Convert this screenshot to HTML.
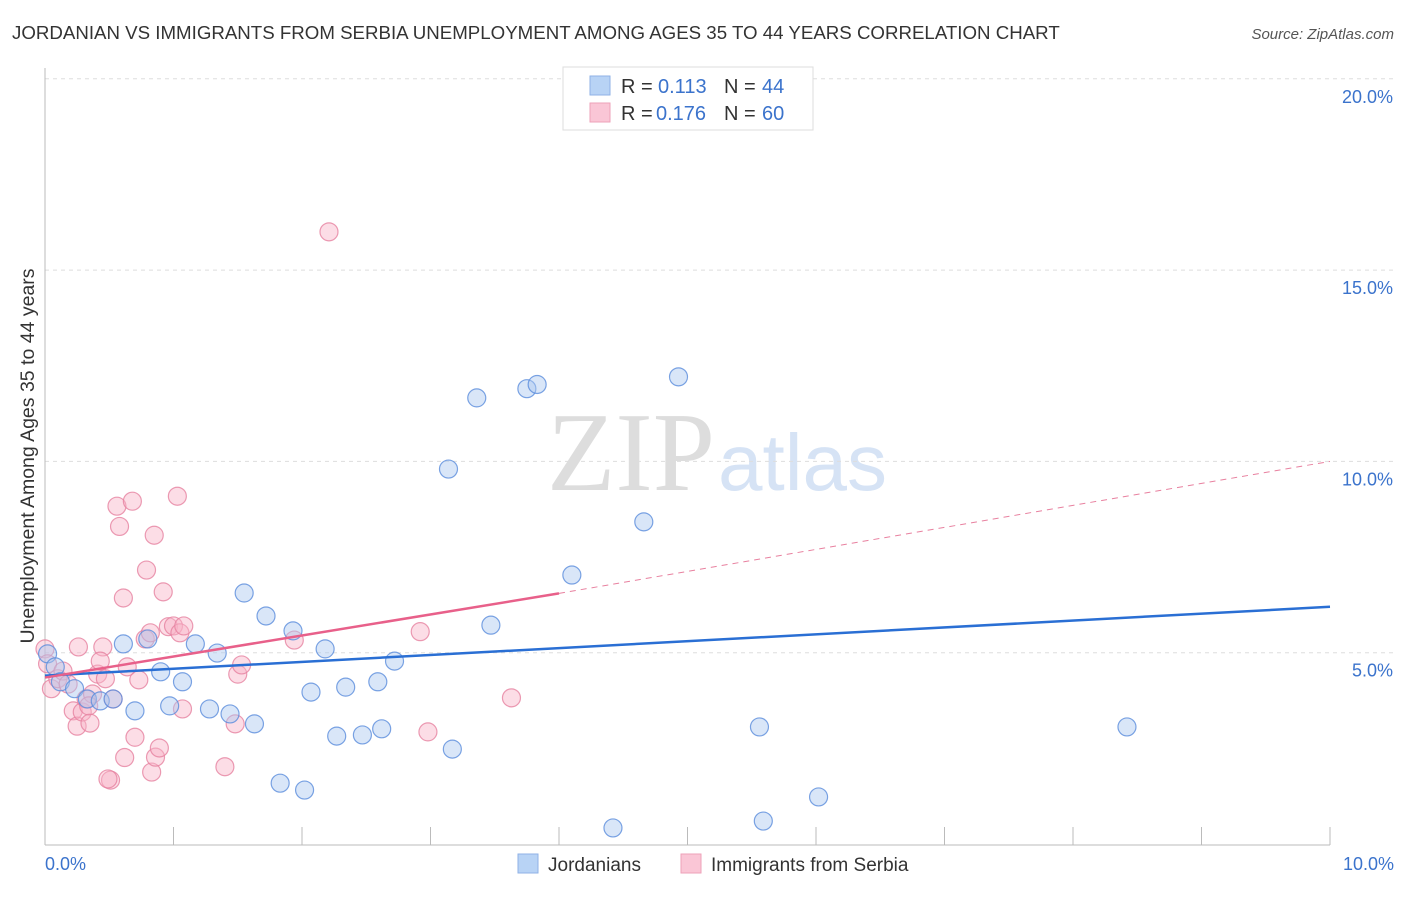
<!DOCTYPE html>
<html><head><meta charset="utf-8"><style>
body{margin:0;background:#fff;font-family:"Liberation Sans",sans-serif;}
</style></head><body>
<svg width="1406" height="892" xmlns="http://www.w3.org/2000/svg" style="font-family:'Liberation Sans',sans-serif">
<text x="12" y="39" font-size="18.7" fill="#333">JORDANIAN VS IMMIGRANTS FROM SERBIA UNEMPLOYMENT AMONG AGES 35 TO 44 YEARS CORRELATION CHART</text>
<text x="1394" y="39" font-size="15" fill="#555" font-style="italic" text-anchor="end">Source: ZipAtlas.com</text>
<text x="715" y="490" font-size="112" fill="#ddd" text-anchor="end" font-family="Liberation Serif">ZIP</text>
<text x="718" y="490" font-size="80" fill="#d6e3f5">atlas</text>
<g id="grid"></g>
<line x1="45" y1="68" x2="45" y2="845" stroke="#bbb"/>
<line x1="45" y1="845" x2="1330" y2="845" stroke="#bbb"/>
<g id="xt"></g>
<text x="45" y="870" font-size="18" fill="#3b73cc">0.0%</text>
<text x="1394" y="870" font-size="18" fill="#3b73cc" text-anchor="end">10.0%</text>
<text transform="translate(34,456) rotate(-90)" font-size="19.5" fill="#333" text-anchor="middle">Unemployment Among Ages 35 to 44 years</text>
<g id="pts"></g>
<g id="lines"></g>
<g>
<rect x="563" y="67" width="250" height="63" fill="#fff" stroke="#ddd"/>
<rect x="590" y="76" width="20" height="19" fill="#b8d3f5" stroke="#8fb2e6"/>
<rect x="590" y="103" width="20" height="19" fill="#fac6d6" stroke="#eea1b8"/>
<text x="621" y="93" font-size="20" fill="#333">R =</text>
<text x="658" y="93" font-size="20" fill="#3b73cc">0.113</text>
<text x="724" y="93" font-size="20" fill="#333">N =</text>
<text x="762" y="93" font-size="20" fill="#3b73cc">44</text>
<text x="621" y="120" font-size="20" fill="#333">R =</text>
<text x="656" y="120" font-size="20" fill="#3b73cc">0.176</text>
<text x="724" y="120" font-size="20" fill="#333">N =</text>
<text x="762" y="120" font-size="20" fill="#3b73cc">60</text>
</g>
<g>
<rect x="518" y="854" width="20" height="19" fill="#b8d3f5" stroke="#8fb2e6"/>
<text x="548" y="871" font-size="19" fill="#333">Jordanians</text>
<rect x="681" y="854" width="20" height="19" fill="#fac6d6" stroke="#eea1b8"/>
<text x="711" y="871" font-size="19" fill="#333">Immigrants from Serbia</text>
</g>
</svg>
<script>
const yTicks=[5,10,15,20];
const blueX=[0.02,0.08,0.12,0.23,0.33,0.43,0.53,0.61,0.70,0.80,0.90,0.97,1.07,1.17,1.28,1.34,1.44,1.55,1.63,1.72,1.83,1.93,2.02,2.07,2.18,2.27,2.34,2.47,2.59,2.62,2.72,3.14,3.17,3.36,3.47,3.75,3.83,4.10,4.42,4.66,4.93,5.56,5.59,6.02,8.42];
const blueY=[4.97,4.63,4.24,4.06,3.79,3.74,3.79,5.23,3.48,5.36,4.50,3.61,4.24,5.23,3.53,4.99,3.40,6.56,3.14,5.96,1.59,5.57,1.41,3.97,5.10,2.82,4.10,2.85,4.24,3.01,4.78,9.80,2.48,11.66,5.72,11.90,12.01,7.03,0.42,8.42,12.21,3.06,0.60,1.23,3.06];
const pinkX=[0.00,0.02,0.05,0.10,0.14,0.18,0.22,0.25,0.26,0.29,0.32,0.35,0.37,0.41,0.45,0.47,0.51,0.53,0.56,0.58,0.61,0.62,0.64,0.68,0.70,0.73,0.78,0.79,0.82,0.83,0.85,0.86,0.89,0.92,0.96,1.00,1.03,1.05,1.07,1.08,1.40,1.48,1.50,1.53,1.94,2.21,2.92,2.98,3.63,0.49,0.34,0.43];
const pinkY=[5.10,4.71,4.06,4.32,4.52,4.18,3.48,3.08,5.15,3.45,3.79,3.16,3.92,4.44,5.15,4.32,1.67,3.79,8.83,8.30,6.43,2.26,4.63,8.96,2.79,4.29,5.36,7.16,5.52,1.88,8.07,2.27,2.51,6.59,5.68,5.70,9.09,5.52,3.53,5.70,2.02,3.14,4.44,4.68,5.33,16.00,5.55,2.93,3.82,1.70,3.61,4.78];
const blueFit=[4.4,6.2], pinkFit=[4.35,6.55], pinkDashEnd=10.0;
const NS='http://www.w3.org/2000/svg';
const X=v=>45+v*128.5, Y=v=>844-v*38.26;
function mk(t,a,p){const e=document.createElementNS(NS,t);for(const k in a)e.setAttribute(k,a[k]);p.appendChild(e);return e;}
const grid=document.getElementById('grid');
yTicks.forEach(t=>{
 const l=mk('line',{x1:45,x2:1394,y1:Y(t),y2:Y(t),stroke:'#ddd','stroke-dasharray':'4,4'},grid);
 
 
 const tx=mk('text',{x:1393,y:Y(t)+24,'font-size':18,fill:'#3b73cc','text-anchor':'end'},grid);
 tx.textContent=t.toFixed(1)+'%';
 
 
});
const xt=document.getElementById('xt');
for(let i=1;i<=10;i++){const l=mk('line',{x1:X(i),x2:X(i),y1:827,y2:845,stroke:'#bbb'},xt);
 
 }
const pts=document.getElementById('pts');
pinkX.forEach((v,i)=>{const c=mk('circle',{cx:X(v),cy:Y(pinkY[i]),r:9,fill:'rgba(248,180,200,0.45)',stroke:'rgba(230,130,160,0.8)','stroke-width':1.2},pts);
 
 });
blueX.forEach((v,i)=>{const c=mk('circle',{cx:X(v),cy:Y(blueY[i]),r:9,fill:'rgba(170,200,240,0.45)',stroke:'rgba(90,140,220,0.8)','stroke-width':1.2},pts);
 
 });
const ln=document.getElementById('lines');
let a=mk('line',{x1:X(0),y1:Y(blueFit[0]),x2:X(10),y2:Y(blueFit[1]),stroke:'#2a6fd4','stroke-width':2.5},ln);


a=mk('line',{x1:X(0),y1:Y(pinkFit[0]),x2:X(4),y2:Y(pinkFit[1]),stroke:'#e8608a','stroke-width':2.5},ln);


a=mk('line',{x1:X(4),y1:Y(pinkFit[1]),x2:X(10),y2:Y(pinkDashEnd),stroke:'#e8809f','stroke-width':1,'stroke-dasharray':'6,5'},ln);


</script>
</body></html>
